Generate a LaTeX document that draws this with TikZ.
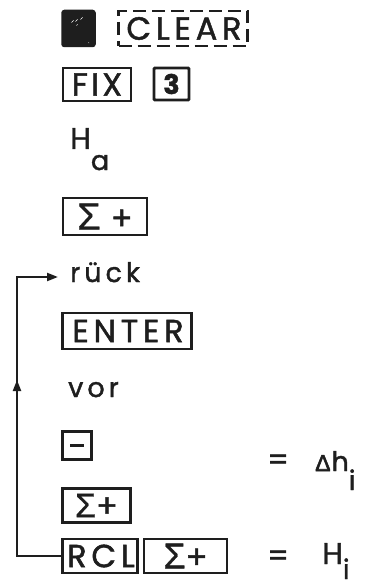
\documentclass[tikz,border=0pt]{standalone}
\usepackage{fontspec}
\setmainfont{Poppins}[LetterSpace=15, FakeBold=1.5]
\newfontfamily\gk{Liberation Sans}[FakeBold=0.8]
\newfontfamily\gkb{Liberation Sans}[FakeBold=2.5]
\usetikzlibrary{arrows.meta}
\definecolor{ink}{HTML}{1E1E1E}
\newcommand{\sigmak}[1]{{\gk\fontsize{#1}{#1}\selectfont\char"03A3}}
\begin{document}
\begin{tikzpicture}[x=1pt,y=-1pt,
  key/.style={draw=ink, line width=2.5pt, inner sep=0pt, text=ink,
    font=\fontsize{32}{32}\selectfont},
  lbl/.style={inner sep=0pt, anchor=base west, text=ink,
    font=\fontsize{27}{27}\selectfont},
  capl/.style={lbl, font=\fontsize{30}{30}\selectfont},
  conn/.style={draw=ink, line width=2.2pt},
  speck/.style={draw=white, line width=0.7pt, line cap=round},
  tipa/.style={-{Triangle[length=11pt,width=8pt]}}]
\useasboundingbox (0,0) rectangle (372,588);
\fill[white] (0,0) rectangle (372,588);
% row 1
\node[key, fill=ink, rounded corners=2pt, minimum width=32pt, minimum height=35pt] (blk) at (78.5,28.5) {};
\draw[speck] ([shift={(-7pt,6pt)}]blk.center) -- ([shift={(-5pt,8pt)}]blk.center);
\draw[speck] ([shift={(-3pt,7pt)}]blk.center) -- ([shift={(-1pt,9pt)}]blk.center);
\draw[speck] ([shift={(2pt,9pt)}]blk.center) -- ([shift={(4pt,11pt)}]blk.center);
\draw[speck] ([shift={(-2pt,3pt)}]blk.center) -- ([shift={(-1pt,4pt)}]blk.center);
\draw[speck] ([shift={(10pt,-14pt)}]blk.center) -- ([shift={(10.5pt,-14.5pt)}]blk.center);
\node[key, dash pattern=on 13pt off 6pt, minimum width=129pt, minimum height=35pt] (clear) at (183,28.5) {\hspace{2pt}CLEAR};
% row 2
\node[key, minimum width=68pt, minimum height=33pt] (fix) at (97,84.5) {\addfontfeatures{LetterSpace=10}FIX};
\node[key, line width=2.9pt, rounded corners=1pt, minimum width=35pt, minimum height=32pt] (three) at (171.5,84) {\fontsize{27}{27}\selectfont\bfseries 3};
% Ha
\node[capl] (ha) at (70,149) {H\raisebox{-21pt}{\fontsize{27}{27}\selectfont a}};
% Sigma+
\node[key, minimum width=84pt, minimum height=37pt] (sig1) at (105,216.5) {\sigmak{38}\hspace{10pt}+};
% rueck
\node[lbl] (ruck) at (70,282) {rück};
% ENTER
\node[key, minimum width=129pt, minimum height=36pt] (enter) at (127,331) {\hspace{2pt}ENTER};
% vor
\node[lbl] (vor) at (68,397) {vor};
% minus
\node[key, minimum width=29pt, minimum height=28pt] (minus) at (77,445.5) {\rule{14pt}{3.2pt}};
\node[capl] (eq1) at (267,470) {=};
\node[capl] (dh) at (315,471) {{\gkb\fontsize{23}{23}\selectfont\char"0394}\hspace{1pt}{\fontsize{27}{27}\selectfont h}\raisebox{-19pt}{\fontsize{27}{27}\selectfont i}};
% Sigma+ 2
\node[key, minimum width=68pt, minimum height=34pt] (sig2) at (96.5,505.5) {\sigmak{34}+};
% RCL Sigma+ 3
\node[key, minimum width=75pt, minimum height=34pt] (rcl) at (100,556) {\hspace{2pt}RCL};
\node[key, minimum width=83pt, minimum height=34pt] (sig3) at (185.5,556) {\sigmak{36}+};
\node[capl] (eq2) at (267,566) {=};
\node[capl] (hi) at (322,564) {H\raisebox{-15pt}{\fontsize{27}{27}\selectfont i}};
% loop connector
\coordinate (cb) at (17,556);
\coordinate (ct) at (17,277);
\coordinate (ctip) at (58,277);
\coordinate (cmid) at (17,380);
\draw[conn, tipa] (rcl.west) -- (cb) -- (ct) -- (ctip);
\draw[conn, tipa] ([yshift=-14pt]cmid) -- (cmid);
\end{tikzpicture}
\end{document}
